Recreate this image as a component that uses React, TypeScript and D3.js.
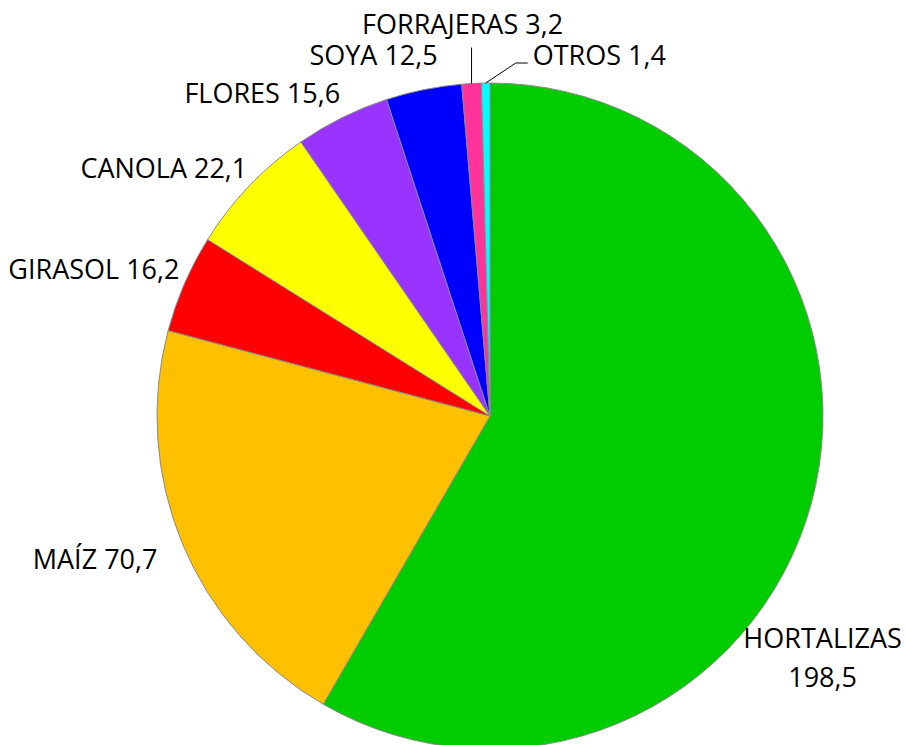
import React, { useEffect, useRef } from 'react';
import * as d3 from 'd3';

// crop values, clockwise from 12 o'clock
const categories = ['HORTALIZAS', 'MAÍZ', 'GIRASOL', 'CANOLA', 'FLORES', 'SOYA', 'FORRAJERAS', 'OTROS'];
const values = [198.5, 70.7, 16.2, 22.1, 15.6, 12.5, 3.2, 1.4];
const valueLabels = ['198,5', '70,7', '16,2', '22,1', '15,6', '12,5', '3,2', '1,4'];
const colors = ['#00CC00', '#FFC000', '#FF0000', '#FFFF00', '#9933FF', '#0000FF', '#FF3399', '#00FFFF'];

// label placement relative to each slice's outer-arc midpoint: [dx, dy, anchor]
const labelOffsets: [number, number, string][] = [
  [11, 146, 'middle'],
  [-25, 25, 'end'],
  [-5, -5, 'end'],
  [-2, -8, 'end'],
  [-2, -15, 'end'],
  [14, -25, 'end'],
  [-9, -50, 'middle'],
  [47, -18, 'start'],
];

const W = 906;
const H = 745;

export default function App() {
  const ref = useRef<SVGSVGElement>(null);

  useEffect(() => {
    if (!ref.current) return;
    const svg = d3.select(ref.current);
    svg.selectAll('*').remove();

    const cx = 490;
    const cy = 416;
    const radius = 333;

    const data = categories.map((c, i) => ({ name: c, value: values[i], label: valueLabels[i], color: colors[i], i }));

    const pie = d3.pie<any>().sort(null).value((d) => d.value);
    const arcs = pie(data);
    const arc = d3.arc<any>().innerRadius(0).outerRadius(radius);

    const g = svg.append('g').attr('transform', `translate(${cx},${cy})`);

    g.selectAll('path.slice')
      .data(arcs)
      .enter()
      .append('path')
      .attr('class', 'slice')
      .attr('d', arc)
      .attr('fill', (d: any) => d.data.color)
      .attr('stroke', '#8a8a8a')
      .attr('stroke-width', 1);

    const font = "'Open Sans', 'Liberation Sans', sans-serif";

    arcs.forEach((a: any) => {
      const mid = (a.startAngle + a.endAngle) / 2;
      const px = radius * Math.sin(mid);
      const py = -radius * Math.cos(mid);
      const [dx, dy, anchor] = labelOffsets[a.data.i];
      const tx = px + dx;
      const ty = py + dy;

      const text = g.append('text')
        .attr('text-anchor', anchor)
        .attr('font-family', font)
        .attr('font-size', 27)
        .attr('fill', '#000');

      if (a.data.name === 'HORTALIZAS') {
        text.append('tspan').attr('x', tx).attr('y', ty).text(a.data.name);
        text.append('tspan').attr('x', tx).attr('y', ty + 39).text(a.data.label);
      } else {
        text.attr('x', tx).attr('y', ty).text(`${a.data.name} ${a.data.label}`);
      }

      // leader lines for the thin slices
      if (a.data.name === 'FORRAJERAS') {
        g.append('path')
          .attr('d', d3.line()([[px, py], [px, ty + 14]]))
          .attr('stroke', '#000')
          .attr('stroke-width', 1)
          .attr('fill', 'none');
      }
      if (a.data.name === 'OTROS') {
        g.append('path')
          .attr('d', d3.line()([[px, py], [tx - 17, ty - 2], [tx - 5, ty - 2]]))
          .attr('stroke', '#000')
          .attr('stroke-width', 1)
          .attr('fill', 'none');
      }
    });
  }, []);

  return (
    <svg
      ref={ref}
      width={W}
      height={H}
      style={{ position: 'absolute', left: 0, top: 0, background: '#fff' }}
    />
  );
}
